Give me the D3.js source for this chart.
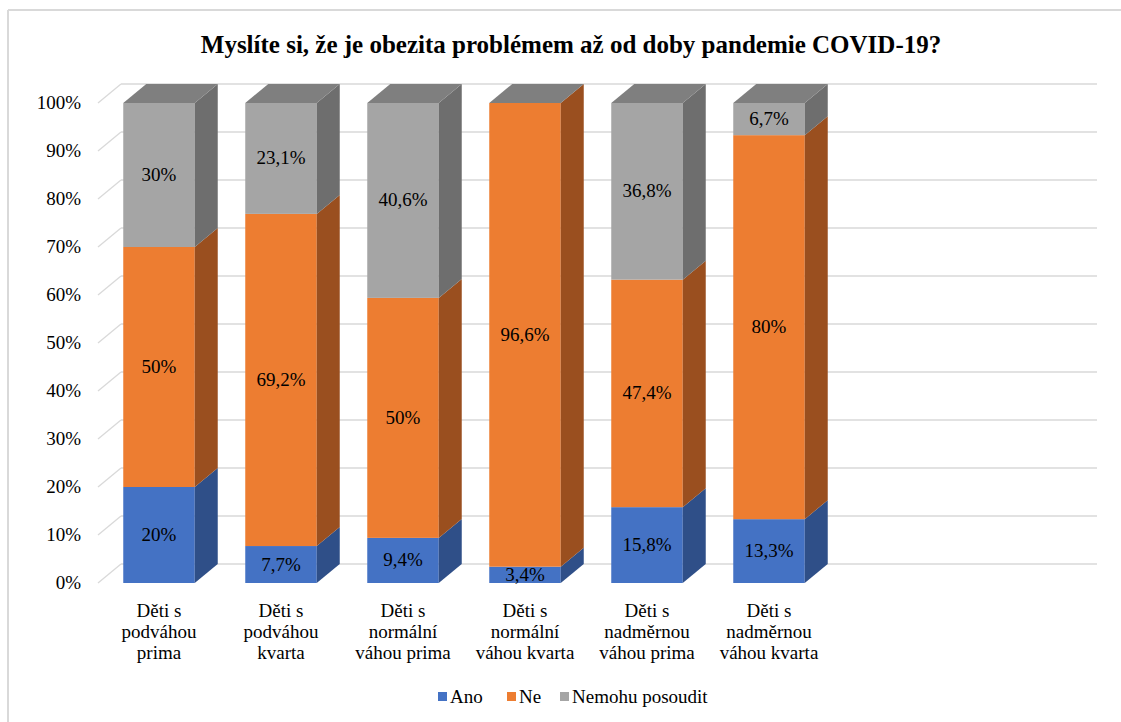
<!DOCTYPE html>
<html><head><meta charset="utf-8">
<script src="https://cdn.jsdelivr.net/npm/d3@7"></script>
<style>body{margin:0;background:#fff;} svg{display:block;} text{font-family:'Liberation Serif','DejaVu Serif',serif;}</style>
</head><body>
<svg id="c" width="1121" height="722"></svg>
<script>
const title = "Myslíte si, že je obezita problémem až od doby pandemie COVID-19?";
const categories = [
  ["Děti s","podváhou","prima"],
  ["Děti s","podváhou","kvarta"],
  ["Děti s","normální","váhou prima"],
  ["Děti s","normální","váhou kvarta"],
  ["Děti s","nadměrnou","váhou prima"],
  ["Děti s","nadměrnou","váhou kvarta"]
];
const seriesNames = ["Ano","Ne","Nemohu posoudit"];
const ano = [20, 7.7, 9.4, 3.4, 15.8, 13.3];
const ne = [50, 69.2, 50, 96.6, 47.4, 80];
const nemohu = [30, 23.1, 40.6, 0, 36.8, 6.7];
const labelsAno = ["20%","7,7%","9,4%","3,4%","15,8%","13,3%"];
const labelsNe = ["50%","69,2%","50%","96,6%","47,4%","80%"];
const labelsNemohu = ["30%","23,1%","40,6%","","36,8%","6,7%"];
const yTicks = [0,10,20,30,40,50,60,70,80,90,100];

const FONT = "'Liberation Serif','DejaVu Serif',serif";
const colors = {front:["#4472C4","#ED7D31","#A5A5A5"], side:["#2F4F88","#9A4F1F","#6E6E6E"], top:["#3A63AE","#C96A2A","#7F7F7F"]};

const svg = d3.select("#c");
svg.append("line").attr("x1",8).attr("x2",1121).attr("y1",10).attr("y2",10).attr("stroke","#d9d9d9").attr("stroke-width",2);
svg.append("line").attr("x1",8).attr("x2",8).attr("y1",10).attr("y2",722).attr("stroke","#d9d9d9").attr("stroke-width",2);

svg.append("text").attr("x",571).attr("y",53).attr("text-anchor","middle").attr("font-family",FONT)
  .attr("font-size",25).attr("font-weight","bold").attr("fill","#000").text(title);

const DX = 23, DY = 19;
const x0 = 98, step = 122;
const x = d3.scaleBand().domain(d3.range(categories.length))
  .range([x0, x0 + step*categories.length]).paddingInner(0.414).paddingOuter(0.207);
const y = d3.scaleLinear().domain([0,100]).range([583,103]);
const gridRight = x0 + step*8 + DX;

const g = svg.append("g");
yTicks.forEach(t=>{
  g.append("line").attr("x1",x0).attr("y1",y(t)).attr("x2",x0+DX).attr("y2",y(t)-DY).attr("stroke","#d9d9d9").attr("stroke-width",1.3);
  g.append("line").attr("x1",x0+DX).attr("y1",y(t)-DY).attr("x2",gridRight).attr("y2",y(t)-DY).attr("stroke","#d9d9d9").attr("stroke-width",1.3);
  g.append("text").attr("x",81).attr("y",y(t)+6).attr("text-anchor","end").attr("font-family",FONT).attr("font-size",19).attr("fill","#000").text(t+"%");
});

const data = categories.map((c,i)=>({i, vals:[ano[i],ne[i],nemohu[i]], labels:[labelsAno[i],labelsNe[i],labelsNemohu[i]]}));
const bw = x.bandwidth();
data.forEach(d=>{
  const bx = x(d.i);
  let cum = 0;
  const segs = d.vals.map((v,k)=>{const s={k,y0:cum,y1:cum+v,label:d.labels[k]}; cum+=v; return s;});
  const bg = svg.append("g");
  segs.forEach(s=>{
    if (s.y1 - s.y0 <= 0) return;
    const yt = y(s.y1), yb = y(s.y0);
    bg.append("rect").attr("x",bx).attr("y",yt).attr("width",bw).attr("height",yb-yt).attr("fill",colors.front[s.k]);
    bg.append("path").attr("d",`M${bx+bw},${yb}L${bx+bw+DX},${yb-DY}L${bx+bw+DX},${yt-DY}L${bx+bw},${yt}Z`).attr("fill",colors.side[s.k]);
  });
  const topS = segs[segs.length-1];
  const yt = y(topS.y1);
  bg.append("path").attr("d",`M${bx},${yt}L${bx+DX},${yt-DY}L${bx+bw+DX},${yt-DY}L${bx+bw},${yt}Z`).attr("fill",colors.top[topS.k]);
  segs.forEach(s=>{
    if (!s.label) return;
    const ym = (y(s.y0)+y(s.y1))/2;
    bg.append("text").attr("x",bx+bw/2).attr("y",ym+6).attr("text-anchor","middle").attr("font-family",FONT).attr("font-size",19).attr("fill","#000").text(s.label);
  });
  const t = svg.append("text").attr("text-anchor","middle").attr("font-family",FONT).attr("font-size",19).attr("fill","#000");
  categories[d.i].forEach((line,li)=>{
    t.append("tspan").attr("x",bx+bw/2).attr("y",617+li*21).text(line);
  });
});

const legX = [438, 507, 560];
seriesNames.forEach((n,k)=>{
  svg.append("rect").attr("x",legX[k]).attr("y",692).attr("width",9).attr("height",9).attr("fill",colors.front[k]);
  svg.append("text").attr("x",legX[k]+12).attr("y",703).attr("font-family",FONT).attr("font-size",19).attr("fill","#000").text(n);
});
</script>
</body></html>
